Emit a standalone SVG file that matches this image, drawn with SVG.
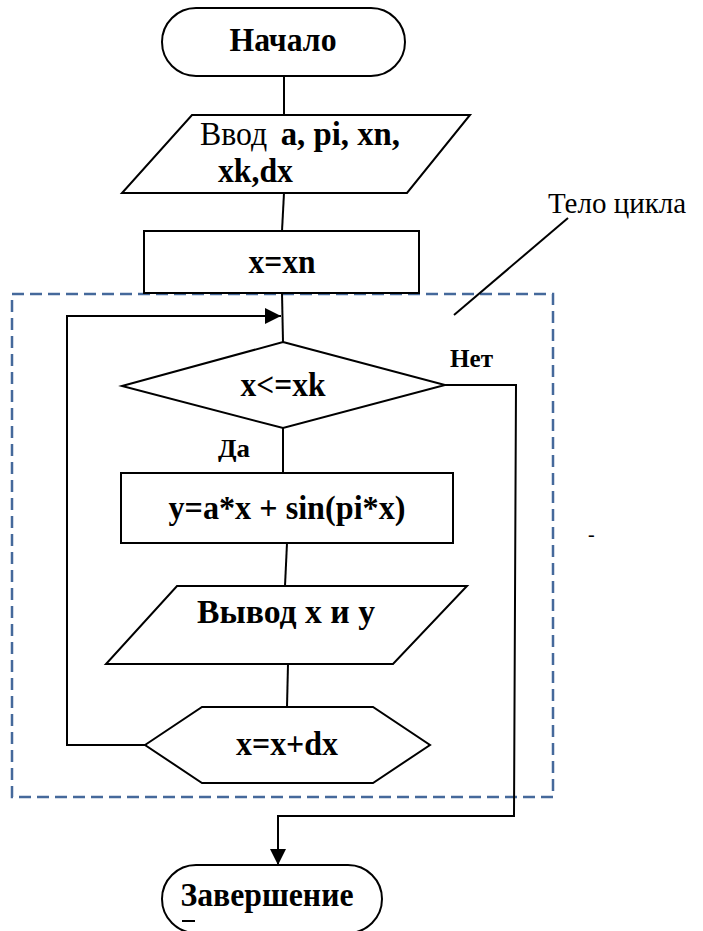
<svg xmlns="http://www.w3.org/2000/svg" width="703" height="931" viewBox="0 0 703 931">
<style>
.shape{fill:#fff;stroke:#000;stroke-width:2}
.line{fill:none;stroke:#000;stroke-width:2}
text{font-family:"Liberation Serif","Times New Roman","DejaVu Serif",serif;fill:#000}
.bold{font-weight:bold;font-size:34px}
.reg{font-weight:normal;font-size:33px}
.small{font-weight:bold;font-size:25px}
.frame{fill:none;stroke:#45699B;stroke-width:2.5;stroke-dasharray:12 6}
</style>
<defs>
<marker id="arrBig" viewBox="0 0 10 10" refX="10" refY="5" markerWidth="16" markerHeight="16" markerUnits="userSpaceOnUse" orient="auto">
<path d="M0,0 L10,5 L0,10 Z" fill="#000"/>
</marker>
</defs>

<g id="loop-body-frame">
<rect class="frame" x="12" y="294" width="541" height="503"/>
</g>

<g id="connectors">
<line class="line" x1="284" y1="76" x2="284" y2="115"/>
<line class="line" x1="284" y1="193" x2="282" y2="231"/>
<line class="line" x1="282" y1="293" x2="283" y2="342"/>
<polyline class="line" points="145,745 67,745 67,316 281,316" marker-end="url(#arrBig)"/>
<line class="line" x1="283" y1="428" x2="283" y2="473"/>
<line class="line" x1="287" y1="543" x2="285" y2="586"/>
<line class="line" x1="288" y1="664" x2="287" y2="707"/>
<polyline class="line" points="445,385 516,385 514,816 278,816 278,865" marker-end="url(#arrBig)"/>
<line class="line" x1="568" y1="218" x2="454" y2="315" stroke-width="1.5"/>
</g>

<g id="start">
<rect class="shape" x="162" y="8" width="243" height="68" rx="34" ry="34"/>
<text class="bold" x="283" y="51" text-anchor="middle" textLength="107" lengthAdjust="spacingAndGlyphs">Начало</text>
</g>

<g id="input">
<polygon class="shape" points="192,115 470,115 407,193 122,193"/>
<text class="reg" x="200" y="145" textLength="200" lengthAdjust="spacingAndGlyphs">Ввод<tspan class="bold" dx="14">a, pi, xn,</tspan></text>
<text class="bold" x="218" y="182" textLength="75" lengthAdjust="spacingAndGlyphs">xk,dx</text>
</g>

<g id="init">
<rect class="shape" x="144" y="231" width="275" height="62"/>
<text class="bold" x="282" y="273" text-anchor="middle" textLength="67" lengthAdjust="spacingAndGlyphs">x=xn</text>
</g>

<g id="condition">
<polygon class="shape" points="283,342 445,385 283,428 122,386"/>
<text class="bold" x="283" y="396" text-anchor="middle" textLength="85" lengthAdjust="spacingAndGlyphs">x&lt;=xk</text>
<text class="small" x="450" y="367" textLength="43" lengthAdjust="spacingAndGlyphs">Нет</text>
<text class="small" x="218" y="457" textLength="32" lengthAdjust="spacingAndGlyphs">Да</text>
</g>

<g id="compute">
<rect class="shape" x="121" y="473" width="332" height="70"/>
<text class="bold" x="287" y="519" text-anchor="middle" textLength="237" lengthAdjust="spacingAndGlyphs">y=a*x + sin(pi*x)</text>
</g>

<g id="output">
<polygon class="shape" points="177,586 467,586 393,664 106,664"/>
<text class="bold" x="197" y="623" textLength="178" lengthAdjust="spacingAndGlyphs">Вывод  x и y</text>
</g>

<g id="increment">
<polygon class="shape" points="145,745 202,707 373,707 430,745 373,783 202,783"/>
<text class="bold" x="287" y="755" text-anchor="middle" textLength="102" lengthAdjust="spacingAndGlyphs">x=x+dx</text>
</g>

<g id="end">
<rect class="shape" x="162" y="865" width="220" height="68" rx="34" ry="34"/>
<text class="bold" x="267" y="906" text-anchor="middle" textLength="173" lengthAdjust="spacingAndGlyphs">Завершение</text>
<rect x="182" y="920" width="13" height="2" fill="#000"/>
</g>

<g id="loop-label">
<text class="reg" x="548" y="213" style="font-size:29px">Тело цикла</text>
</g>

<g id="stray-mark">
<text class="reg" x="588" y="541" style="font-size:20px">-</text>
</g>
</svg>
